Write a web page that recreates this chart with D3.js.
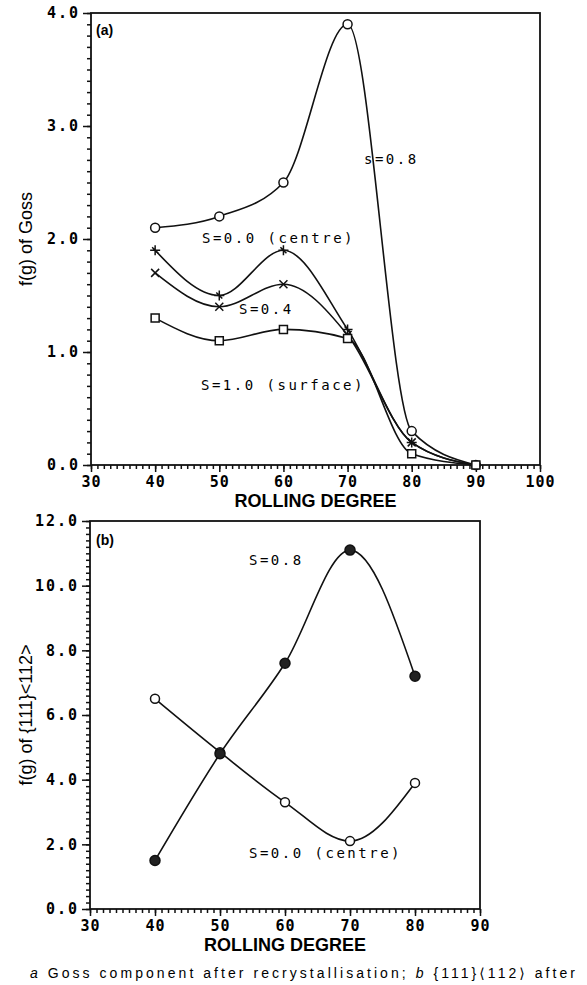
<!DOCTYPE html>
<html>
<head>
<meta charset="utf-8">
<script src="https://cdn.jsdelivr.net/npm/d3@7"></script>
<style>
  body { margin: 0; background: #fff; }
  .tick text { font-family: "DejaVu Sans Mono", monospace; font-weight: bold; }
  .lbl { font-family: "DejaVu Sans Mono", monospace; font-size: 14px; letter-spacing: 2.5px; }
</style>
</head>
<body>
<div id="chart"></div>
<script>
// ---- data ----
var degreesA = [40, 50, 60, 70, 80, 90];
var gossCircle = [2.1, 2.2, 2.5, 3.9, 0.3, 0.0];
var gossPlus   = [1.9, 1.5, 1.9, 1.2, 0.2, 0.0];
var gossCross  = [1.7, 1.4, 1.6, 1.15, 0.2, 0.0];
var gossSquare = [1.3, 1.1, 1.2, 1.12, 0.1, 0.0];

var degreesB = [40, 50, 60, 70, 80];
var brassS08 = [1.5, 4.8, 7.6, 11.1, 7.2];
var brassS00 = [6.5, 4.85, 3.3, 2.1, 3.9];

var xTicksA = [30, 40, 50, 60, 70, 80, 90, 100];
var yTicksA = [0, 1, 2, 3, 4];
var xTicksB = [30, 40, 50, 60, 70, 80, 90];
var yTicksB = [0, 2, 4, 6, 8, 10, 12];

var W = 587, H = 985;

var svg = d3.select("#chart")
  .append("svg")
    .attr("width", W)
    .attr("height", H);

// marker shapes
function markerPath(type, s) {
  if (type == "plus") return "M" + (-s) + ",0H" + s + "M0," + (-s) + "V" + s +
      "M" + (-s*0.6) + "," + (-s*0.6) + "L" + (s*0.6) + "," + (s*0.6);
  if (type == "cross") return "M" + (-s) + "," + (-s) + "L" + s + "," + s + "M" + (-s) + "," + s + "L" + s + "," + (-s);
  if (type == "square") return "M" + (-s) + "," + (-s) + "h" + (2*s) + "v" + (2*s) + "h" + (-2*s) + "Z";
  return d3.symbol().type(d3.symbolCircle).size(s*s*Math.PI)();
}

function drawPanel(p) {
  var x = d3.scaleLinear().domain(p.xDomain).range([p.left, p.right]);
  var y = d3.scaleLinear().domain(p.yDomain).range([p.bottom, p.top]);
  var g = svg.append("g");

  // minor ticks
  g.append("g")
    .attr("transform", "translate(0," + p.bottom + ")")
    .call(d3.axisBottom(x).tickValues(d3.range(p.xDomain[0], p.xDomain[1] + 0.001, 1))
      .tickSize(4).tickSizeOuter(0).tickFormat(""))
    .call(function(a) { a.select(".domain").remove(); });
  g.append("g")
    .attr("transform", "translate(" + p.left + ",0)")
    .call(d3.axisLeft(y).tickValues(d3.range(p.yDomain[0], p.yDomain[1] + 0.001, p.yMinor))
      .tickSize(4).tickSizeOuter(0).tickFormat(""))
    .call(function(a) { a.select(".domain").remove(); });

  // major ticks + labels
  g.append("g")
    .attr("transform", "translate(0," + p.bottom + ")")
    .call(d3.axisBottom(x).tickValues(p.xTicks).tickSize(7).tickPadding(4).tickFormat(d3.format("d")))
    .call(function(a) { a.select(".domain").remove(); })
    .selectAll("text").style("font-size", "15px").style("letter-spacing", "1px");
  g.append("g")
    .attr("transform", "translate(" + p.left + ",0)")
    .call(d3.axisLeft(y).tickValues(p.yTicks).tickSize(8).tickPadding(3).tickFormat(d3.format(".1f")))
    .call(function(a) { a.select(".domain").remove(); })
    .selectAll("text").style("font-size", "15px").style("letter-spacing", "2px");

  g.selectAll(".tick line").attr("stroke", "#111").attr("stroke-width", 1.5);

  // frame
  g.append("rect")
    .attr("x", p.left).attr("y", p.top)
    .attr("width", p.right - p.left).attr("height", p.bottom - p.top)
    .attr("fill", "none").attr("stroke", "#111").attr("stroke-width", 1.8);

  var line = d3.line()
    .x(function(d) { return x(d[0]); })
    .y(function(d) { return y(d[1]); })
    .curve(d3.curveMonotoneX);

  p.series.forEach(function(s) {
    var pts = s.xs.map(function(v, i) { return [v, s.ys[i]]; });
    g.append("path")
      .attr("d", line(pts))
      .attr("fill", "none")
      .attr("stroke", "#111")
      .attr("stroke-width", 1.6);
    g.selectAll(null)
      .data(pts)
      .enter()
      .append("path")
        .attr("transform", function(d) { return "translate(" + x(d[0]) + "," + y(d[1]) + ")"; })
        .attr("d", markerPath(s.marker, s.size))
        .attr("fill", s.filled ? "#222" : (s.marker == "circle" || s.marker == "square" ? "#fff" : "none"))
        .attr("stroke", "#111")
        .attr("stroke-width", 1.5);
  });

  // in-plot labels
  p.labels.forEach(function(l) {
    g.append("text")
      .attr("class", l.cls || "lbl")
      .attr("x", l.x).attr("y", l.y)
      .style("font-size", l.size ? l.size + "px" : null)
      .style("font-family", l.font || null)
      .style("font-weight", l.weight || null)
      .style("letter-spacing", l.ls != null ? l.ls + "px" : null)
      .text(l.t);
  });

  // axis titles
  g.append("text")
    .attr("x", (p.left + p.right) / 2)
    .attr("y", p.bottom + 42)
    .attr("text-anchor", "middle")
    .style("font-family", "Liberation Sans, Arial, sans-serif")
    .style("font-weight", "bold")
    .style("font-size", "18px")
    .text("ROLLING DEGREE");

  g.append("text")
    .attr("transform", "translate(32," + ((p.top + p.bottom) / 2) + ") rotate(-90)")
    .attr("text-anchor", "middle")
    .style("font-family", "Liberation Sans, Arial, sans-serif")
    .style("font-size", "18px")
    .text(p.yTitle);
}

// panel (a)
drawPanel({
  left: 91, right: 540, top: 13, bottom: 465,
  xDomain: [30, 100], yDomain: [0, 4], yMinor: 0.1,
  xTicks: xTicksA, yTicks: yTicksA,
  yTitle: "f(g) of Goss",
  series: [
    {xs: degreesA, ys: gossCircle, marker: "circle", size: 4.5},
    {xs: degreesA, ys: gossPlus, marker: "plus", size: 5},
    {xs: degreesA, ys: gossCross, marker: "cross", size: 4},
    {xs: degreesA, ys: gossSquare, marker: "square", size: 4}
  ],
  labels: [
    {t: "(a)", x: 96, y: 35, font: "Liberation Sans, Arial, sans-serif", weight: "bold", size: 14, ls: 0},
    {t: "s=0.8", x: 364, y: 164},
    {t: "S=0.0 (centre)", x: 202, y: 243},
    {t: "S=0.4", x: 239, y: 314},
    {t: "S=1.0 (surface)", x: 201, y: 390}
  ]
});

// panel (b)
drawPanel({
  left: 90, right: 480, top: 521, bottom: 909,
  xDomain: [30, 90], yDomain: [0, 12], yMinor: 0.2,
  xTicks: xTicksB, yTicks: yTicksB,
  yTitle: "f(g) of {111}<112>",
  series: [
    {xs: degreesB, ys: brassS00, marker: "circle", size: 4.5},
    {xs: degreesB, ys: brassS08, marker: "circle", size: 5, filled: true}
  ],
  labels: [
    {t: "(b)", x: 96, y: 545, font: "Liberation Sans, Arial, sans-serif", weight: "bold", size: 14, ls: 0},
    {t: "S=0.8", x: 249, y: 565},
    {t: "S=0.0 (centre)", x: 249, y: 858}
  ]
});

// caption
var cap = svg.append("text")
  .attr("x", 30)
  .attr("y", 978)
  .attr("textLength", 545)
  .attr("lengthAdjust", "spacing")
  .style("font-family", "Liberation Sans, DejaVu Sans, sans-serif")
  .style("font-size", "14px");
cap.append("tspan").style("font-style", "italic").text("a");
cap.append("tspan").text(" Goss component after recrystallisation; ");
cap.append("tspan").style("font-style", "italic").text("b");
cap.append("tspan").text(" {111}\u27e8112\u27e9 after");
</script>
</body>
</html>
